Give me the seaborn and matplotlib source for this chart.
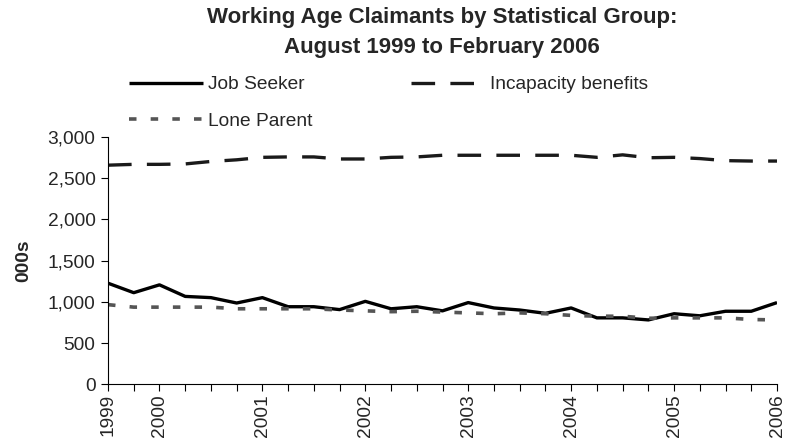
import numpy as np
import pandas as pd
import matplotlib
matplotlib.use("Agg")
import matplotlib.pyplot as plt
import seaborn as sns

# ---- data (thousands), quarterly Aug 1999 .. Feb 2006 ----
periods = ["Aug 1999", "Nov 1999", "Feb 2000", "May 2000", "Aug 2000", "Nov 2000",
           "Feb 2001", "May 2001", "Aug 2001", "Nov 2001", "Feb 2002", "May 2002",
           "Aug 2002", "Nov 2002", "Feb 2003", "May 2003", "Aug 2003", "Nov 2003",
           "Feb 2004", "May 2004", "Aug 2004", "Nov 2004", "Feb 2005", "May 2005",
           "Aug 2005", "Nov 2005", "Feb 2006"]
job_seeker = [1225, 1110, 1205, 1065, 1050, 985, 1050, 940, 940, 905, 1005, 915, 940, 890,
              990, 925, 900, 860, 925, 805, 805, 780, 855, 830, 885, 885, 990]
incapacity = [2655, 2665, 2665, 2670, 2700, 2720, 2750, 2755, 2755, 2730, 2730, 2750, 2755,
              2775, 2775, 2775, 2775, 2775, 2775, 2750, 2780, 2745, 2750, 2735, 2710, 2705, 2705]
lone_parent = [965, 935, 935, 935, 935, 915, 915, 915, 915, 900, 890, 880, 885, 875, 865,
               855, 865, 855, 835, 825, 825, 800, 805, 805, 805, 785, 780]
series_names = ["Job Seeker", "Incapacity benefits", "Lone Parent"]
title_lines = ["Working Age Claimants by Statistical Group:", "August 1999 to February 2006"]
y_label = "000s"
y_ticks = [0, 500, 1000, 1500, 2000, 2500, 3000]

sns.set_theme(style="white")
plt.rcParams["font.family"] = ["Liberation Sans", "DejaVu Sans"]
plt.rcParams["lines.scale_dashes"] = False

FS = 13.8
W, H = 797, 443
fig = plt.figure(figsize=(W / 100, H / 100), dpi=100)
ax = fig.add_axes([108 / W, 1 - 384.3 / H, (777 - 108) / W, (384.3 - 136.7) / H])

idx = np.arange(len(periods))
df = pd.DataFrame({"idx": idx, "Job Seeker": job_seeker,
                   "Incapacity benefits": incapacity, "Lone Parent": lone_parent})

styles = {
    "Job Seeker": dict(color="black", lw=2.4, dashes=None),
    "Incapacity benefits": dict(color="#1a1a1a", lw=2.4, dashes=(17, 11)),
    "Lone Parent": dict(color="#555555", lw=2.6, dashes=(5.4, 10.2)),
}
handles = {}
for name in series_names:
    st = styles[name]
    sns.lineplot(data=df, x="idx", y=name, ax=ax, color=st["color"], linewidth=st["lw"],
                 label=name, legend=False)
    line = ax.get_lines()[-1]
    if st["dashes"] is not None:
        line.set_dashes(st["dashes"])
    line.set_solid_capstyle("butt")
    line.set_dash_capstyle("butt")
    handles[name] = line

ax.set_xlim(0, len(periods) - 1)
ax.set_ylim(0, 3000)
ax.set_yticks(y_ticks)
ax.set_yticklabels([f"{v:,}" for v in y_ticks], fontsize=FS)

label_pos = [i for i, p in enumerate(periods) if i == 0 or p.startswith("Feb")]
ax.set_xticks(idx, minor=True)
ax.set_xticks(label_pos)
ax.set_xticklabels([periods[i].split()[1] for i in label_pos], rotation=90, fontsize=FS)
ax.tick_params(axis="x", which="both", direction="out", length=5, width=0.8, color="black",
               bottom=True, pad=2)
ax.tick_params(axis="y", direction="out", length=5, width=0.8, color="black", left=True, pad=4)
ax.set_xlabel("")
ax.set_ylabel(y_label, fontsize=FS, fontweight="bold", labelpad=11)
for s in ["top", "right"]:
    ax.spines[s].set_visible(False)
for s in ["left", "bottom"]:
    ax.spines[s].set_color("black")
    ax.spines[s].set_linewidth(0.8)
ax.grid(False)

for k, (txt, yc) in enumerate(zip(title_lines, [17, 47])):
    fig.text(442 / W, 1 - yc / H, txt, ha="center", va="center", fontsize=16,
             fontweight="bold")

order = ["Job Seeker", "Lone Parent", "Incapacity benefits"]
leg = fig.legend([handles[n] for n in order], order, ncol=2, loc="upper left",
                 bbox_to_anchor=(129 / W, 1 - 76 / H), frameon=False, fontsize=FS,
                 handlelength=3.85, handletextpad=0.26, columnspacing=5.15,
                 labelspacing=1.0, borderpad=0, borderaxespad=0)

fig.savefig("out.png", dpi=100, facecolor="white")
